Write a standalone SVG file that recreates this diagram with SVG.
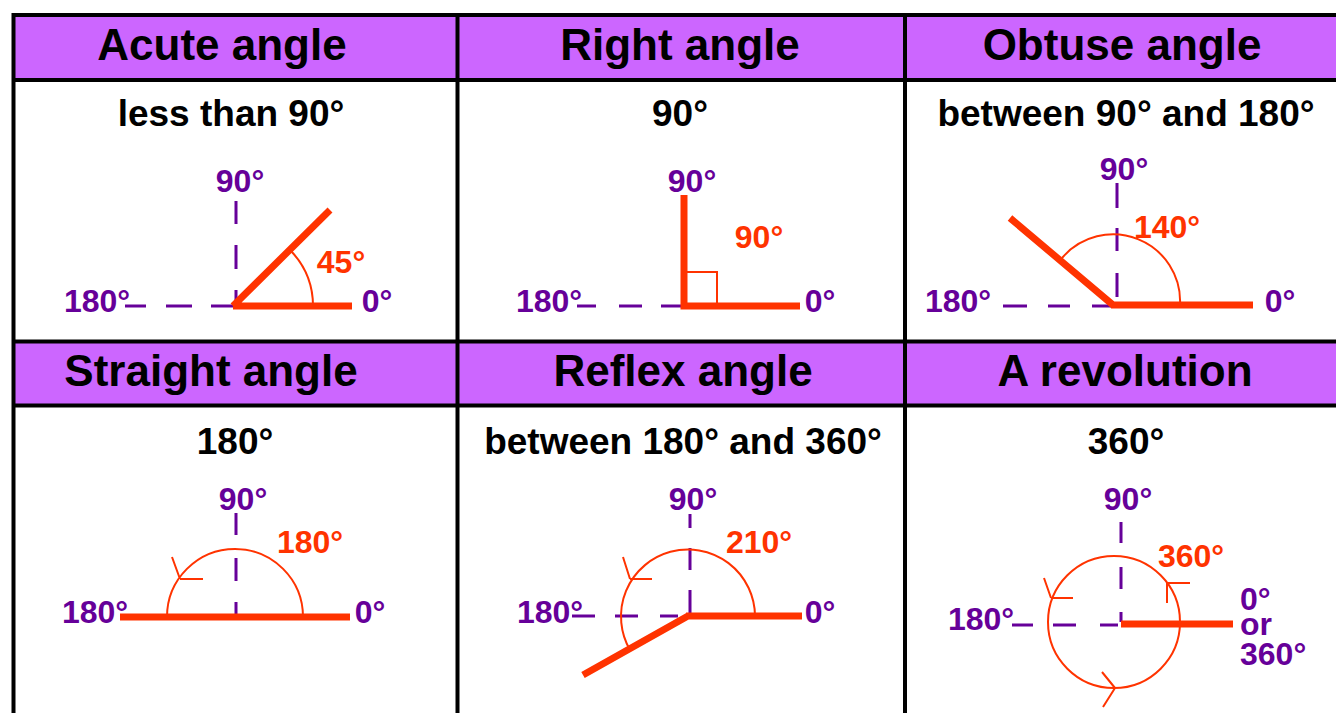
<svg xmlns="http://www.w3.org/2000/svg" width="1336" height="713" viewBox="0 0 1336 713">
<style>
.hdr{fill:#CC66FF}
.grid{stroke:#000;stroke-width:4;fill:none}
.title{font-family:"Liberation Sans",Arial,sans-serif;font-weight:bold;font-size:44px;fill:#000;text-anchor:middle}
.sub{font-family:"Liberation Sans",Arial,sans-serif;font-weight:bold;font-size:37px;fill:#000;text-anchor:middle}
.pl{font-family:"Liberation Sans",Arial,sans-serif;font-weight:bold;font-size:32px;fill:#660099;text-anchor:middle}
.ol{font-family:"Liberation Sans",Arial,sans-serif;font-weight:bold;font-size:32px;fill:#FF3300;text-anchor:middle}
.st{text-anchor:start}
.dash{stroke:#660099;stroke-width:3;fill:none}
.arm{stroke:#FF3300;stroke-width:7;fill:none}
.arc{stroke:#FF3300;stroke-width:2;fill:none}
</style>
<rect class="hdr" x="15" y="17" width="1321" height="62"/>
<rect class="hdr" x="15" y="343" width="1321" height="62"/>
<g id="grid">
<path class="grid" d="M12 15H1336 M13.5 13V713 M457.5 13V713 M905 13V713 M13 80H1336 M13 341.5H1336 M13 405.5H1336"/>
</g>
<g id="acute">
<text class="title" x="222" y="60">Acute angle</text>
<text class="sub" x="231" y="126">less than 90°</text>
<path class="dash" d="M236 201V224 M236 245V269 M236 290V306 M125 306H146 M166 306H192 M211 306H233"/>
<path class="arc" d="M313 306A80 80 0 0 0 290 250"/>
<path class="arm" d="M233 306H352 M233 306L330 210"/>
<text class="pl" x="240" y="192">90°</text>
<text class="pl" x="97" y="312">180°</text>
<text class="pl" x="377" y="312">0°</text>
<text class="ol" x="341" y="273">45°</text>
</g>
<g id="right">
<text class="title" x="680" y="60">Right angle</text>
<text class="sub" x="680" y="126">90°</text>
<path class="dash" d="M577 306H596 M619 306H642 M661 306H682"/>
<path class="arc" d="M684 272H717V306"/>
<path class="arm" d="M684 195V306H800"/>
<text class="pl" x="692" y="192">90°</text>
<text class="pl" x="549" y="312">180°</text>
<text class="pl" x="820" y="312">0°</text>
<text class="ol" x="759" y="248">90°</text>
</g>
<g id="obtuse">
<text class="title" x="1122" y="60">Obtuse angle</text>
<text class="sub" x="1126" y="126">between 90° and 180°</text>
<path class="dash" d="M1117 183V208 M1117 228V251 M1117 273V297 M1003 306H1027 M1048 306H1070 M1092 306H1111"/>
<path class="arc" d="M1180 305A67 67 0 0 0 1062 258"/>
<path class="arm" d="M1111 305H1253 M1113 305L1010 218"/>
<text class="pl" x="1124" y="180">90°</text>
<text class="pl" x="958" y="312">180°</text>
<text class="pl" x="1280" y="312">0°</text>
<text class="ol" x="1167" y="238">140°</text>
</g>
<g id="straight">
<text class="title" x="211" y="386">Straight angle</text>
<text class="sub" x="235" y="454">180°</text>
<path class="dash" d="M236 513V535 M236 558V581 M236 602V614"/>
<path class="arc" d="M303 617A68 68 0 0 0 167 617 M180 579L172 557 M180 579H203"/>
<path class="arm" d="M120 617H350"/>
<text class="pl" x="243" y="510">90°</text>
<text class="pl" x="95" y="623">180°</text>
<text class="pl" x="370" y="623">0°</text>
<text class="ol" x="310" y="553">180°</text>
</g>
<g id="reflex">
<text class="title" x="683" y="386">Reflex angle</text>
<text class="sub" x="683" y="454">between 180° and 360°</text>
<path class="dash" d="M690 514V528 M690 548V570 M690 590V613 M572 616H595 M615 616H638 M660 616H678"/>
<path class="arc" d="M755 616A67 67 0 1 0 630 650 M630 579L623 557 M630 579H652"/>
<path class="arm" d="M686 616H802 M688 616L583 675"/>
<text class="pl" x="693" y="510">90°</text>
<text class="pl" x="550" y="623">180°</text>
<text class="pl" x="820" y="623">0°</text>
<text class="ol" x="759" y="553">210°</text>
</g>
<g id="revolution">
<text class="title" x="1125" y="386">A revolution</text>
<text class="sub" x="1126" y="454">360°</text>
<path class="dash" d="M1121 522V543 M1121 567V589 M1121 612V622 M1012 625H1033 M1053 625H1076 M1100 625H1118"/>
<circle class="arc" cx="1114" cy="622" r="66"/>
<path class="arc" d="M1167 583V603 M1167 583H1190 M1051 598L1044 578 M1051 598H1073 M1115 688L1102 672 M1115 688L1103 707"/>
<path class="arm" d="M1121 624H1233"/>
<text class="pl" x="1128" y="510">90°</text>
<text class="pl" x="981" y="630">180°</text>
<text class="pl st" x="1240" y="610">0°</text>
<text class="pl st" x="1240" y="635">or</text>
<text class="pl st" x="1240" y="665">360°</text>
<text class="ol" x="1191" y="567">360°</text>
</g>
</svg>
